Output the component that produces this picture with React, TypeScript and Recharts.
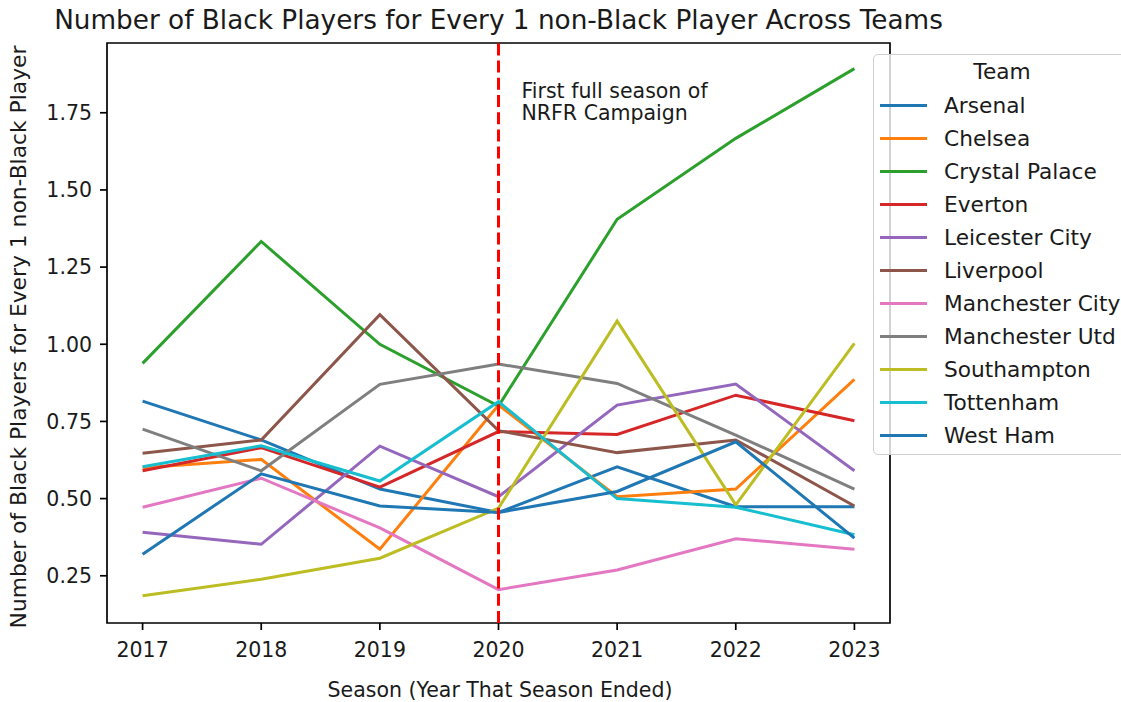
import React from "react";
import {
  LineChart,
  Line,
  XAxis,
  YAxis,
  ReferenceLine,
  ReferenceArea,
  Legend,
} from "recharts";

const SEASONS = [2017, 2018, 2019, 2020, 2021, 2022, 2023];
const Y_TICKS = [0.25, 0.5, 0.75, 1.0, 1.25, 1.5, 1.75];

const ARSENAL = [0.816, 0.69, 0.531, 0.455, 0.603, 0.474, 0.474];
const CHELSEA = [0.6, 0.627, 0.336, 0.803, 0.506, 0.531, 0.886];
const CRYSTAL_PALACE = [0.938, 1.333, 1.0, 0.8, 1.405, 1.667, 1.893];
const EVERTON = [0.59, 0.665, 0.537, 0.717, 0.708, 0.835, 0.752];
const LEICESTER = [0.391, 0.352, 0.67, 0.506, 0.803, 0.871, 0.59];
const LIVERPOOL = [0.647, 0.69, 1.096, 0.72, 0.649, 0.69, 0.476];
const MAN_CITY = [0.472, 0.566, 0.405, 0.205, 0.269, 0.37, 0.336];
const MAN_UTD = [0.725, 0.59, 0.87, 0.936, 0.873, 0.706, 0.531];
const SOUTHAMPTON = [0.185, 0.239, 0.307, 0.469, 1.075, 0.48, 1.003];
const TOTTENHAM = [0.603, 0.671, 0.557, 0.814, 0.5, 0.472, 0.383];
const WEST_HAM = [0.32, 0.58, 0.476, 0.455, 0.523, 0.684, 0.372];

const TEAMS = [
  { name: "Arsenal", values: ARSENAL, color: "#1f77b4" },
  { name: "Chelsea", values: CHELSEA, color: "#ff7f0e" },
  { name: "Crystal Palace", values: CRYSTAL_PALACE, color: "#2ca02c" },
  { name: "Everton", values: EVERTON, color: "#d62728" },
  { name: "Leicester City", values: LEICESTER, color: "#9467bd" },
  { name: "Liverpool", values: LIVERPOOL, color: "#8c564b" },
  { name: "Manchester City", values: MAN_CITY, color: "#e377c2" },
  { name: "Manchester Utd", values: MAN_UTD, color: "#7f7f7f" },
  { name: "Southampton", values: SOUTHAMPTON, color: "#bcbd22" },
  { name: "Tottenham", values: TOTTENHAM, color: "#17becf" },
  { name: "West Ham", values: WEST_HAM, color: "#1f77b4" },
];

const X_DOMAIN = [2016.7, 2023.3];
const Y_DOMAIN = [0.097, 1.976];

const rows = SEASONS.map((season, i) => {
  const row: Record<string, number> = { season };
  TEAMS.forEach((t) => {
    row[t.name] = t.values[i];
  });
  return row;
});

const FONT = "'DejaVu Sans', sans-serif";
const INK = "#1a1a1a";

const tickStyle = { fill: INK, fontSize: 20.5, fontFamily: FONT };

function renderNote(props: any) {
  const vb = props.viewBox || { x: 0, y: 0 };
  const x = vb.x + 23;
  const y = vb.y + 55;
  return (
    <text x={x} y={y} fill={INK} fontSize={20.5} fontFamily={FONT}>
      <tspan x={x} y={y}>First full season of</tspan>
      <tspan x={x} y={y + 22}>NRFR Campaign</tspan>
    </text>
  );
}

function renderLegend() {
  return (
    <div
      style={{
        boxSizing: "border-box",
        width: 258,
        height: 401,
        background: "rgba(255,255,255,0.8)",
        border: "1.5px solid #d0d0d0",
        borderRadius: 5,
        fontFamily: FONT,
        fontSize: 21.7,
        color: INK,
      }}
    >
      <div style={{ height: 34, lineHeight: "34px", textAlign: "center" }}>Team</div>
      {TEAMS.map((t) => (
        <div
          key={t.name}
          style={{ height: 33, display: "flex", alignItems: "center", whiteSpace: "nowrap" }}
        >
          <span
            style={{
              display: "inline-block",
              marginLeft: 6,
              width: 47,
              height: 3,
              background: t.color,
            }}
          />
          <span style={{ marginLeft: 17 }}>{t.name}</span>
        </div>
      ))}
    </div>
  );
}

export default function App() {
  return (
    <div
      style={{
        position: "absolute",
        left: 0,
        top: 0,
        width: 1121,
        height: 702,
        overflow: "hidden",
        background: "#fff",
      }}
    >
      <LineChart
        width={1121}
        height={702}
        data={rows}
        margin={{ top: 43, right: 231, bottom: 49, left: 47 }}
      >
        <XAxis
          dataKey="season"
          type="number"
          domain={X_DOMAIN}
          ticks={SEASONS}
          allowDataOverflow
          axisLine={false}
          tickLine={{ stroke: "#000", strokeWidth: 1.7 }}
          tickSize={7}
          tickMargin={12}
          tick={tickStyle}
          height={30}
        />
        <YAxis
          type="number"
          domain={Y_DOMAIN}
          ticks={Y_TICKS}
          allowDataOverflow
          axisLine={false}
          tickLine={{ stroke: "#000", strokeWidth: 1.7 }}
          tickSize={7}
          tickMargin={8}
          tick={tickStyle}
          tickFormatter={(v: number) => v.toFixed(2)}
          width={60}
        />
        {TEAMS.map((t, i) => (
          <Line
            key={t.name + i}
            type="linear"
            dataKey={t.name}
            stroke={t.color}
            strokeWidth={3}
            dot={false}
            isAnimationActive={false}
          />
        ))}
        <ReferenceLine
          x={2020}
          stroke="#ff0000"
          strokeWidth={3}
          strokeDasharray="12 5.2"
          label={renderNote}
        />
        <ReferenceArea
          x1={X_DOMAIN[0]}
          x2={X_DOMAIN[1]}
          y1={Y_DOMAIN[0]}
          y2={Y_DOMAIN[1]}
          fill="none"
          fillOpacity={0}
          stroke="#000"
          strokeWidth={1.7}
        />
        <Legend
          layout="vertical"
          align="center"
          verticalAlign="middle"
          content={renderLegend}
          wrapperStyle={{ left: 873, top: 54, width: 258, height: 401 }}
        />
      </LineChart>
      <svg
        width={1121}
        height={702}
        style={{ position: "absolute", left: 0, top: 0, pointerEvents: "none" }}
      >
        <text x={498.5} y={29} textAnchor="middle" fontSize={26.3} fontFamily={FONT} fill={INK}>
          Number of Black Players for Every 1 non-Black Player Across Teams
        </text>
        <text x={500} y={697} textAnchor="middle" fontSize={20.5} fontFamily={FONT} fill={INK}>
          Season (Year That Season Ended)
        </text>
        <text
          x={25.5}
          y={337}
          textAnchor="middle"
          fontSize={21.8}
          fontFamily={FONT}
          fill={INK}
          transform="rotate(-90, 25.5, 337)"
        >
          Number of Black Players for Every 1 non-Black Player
        </text>
      </svg>
    </div>
  );
}
